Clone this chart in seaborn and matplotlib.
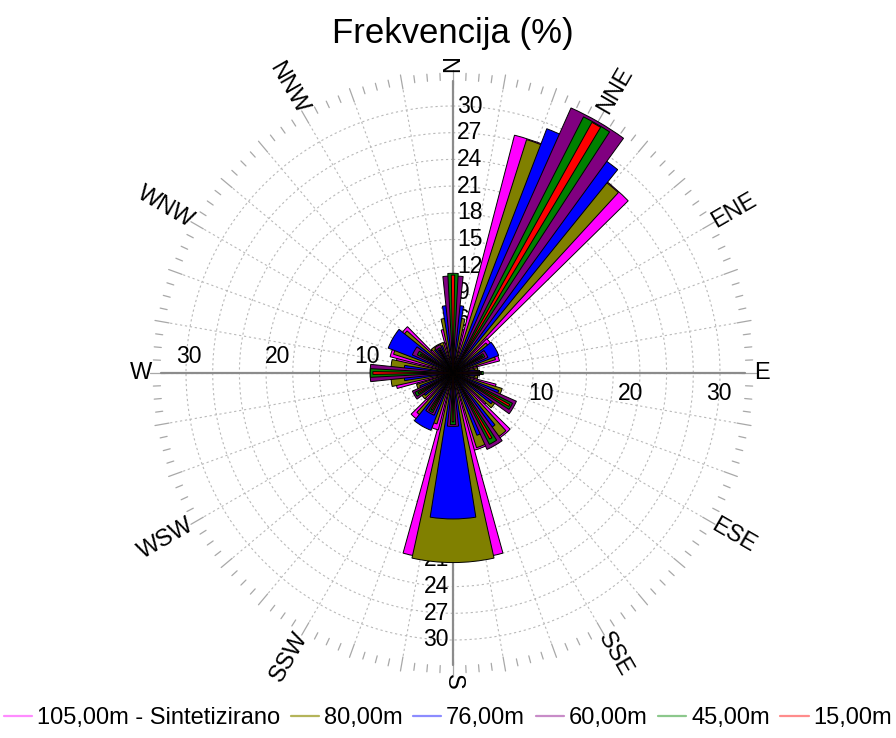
import numpy as np
import matplotlib
matplotlib.use("Agg")
import matplotlib.pyplot as plt
from matplotlib.lines import Line2D
import seaborn as sns

sns.set_theme(style="white")
plt.rcParams["font.family"] = ["Liberation Sans", "DejaVu Sans"]
plt.rcParams["text.color"] = "black"

# smjerovi vjetra (12 sektora)
smjerovi = ["N", "NNE", "ENE", "E", "ESE", "SSE", "S", "SSW", "WSW", "W", "WNW", "NNW"]
kutovi = [0, 30, 60, 90, 120, 150, 180, 210, 240, 270, 300, 330]

# serije po visini
visine = ["105,00m - Sintetizirano", "80,00m", "76,00m", "60,00m", "45,00m", "15,00m"]
boje = ["#ff00ff", "#808000", "#0000ff", "#800080", "#008000", "#ff0000"]
boje_legenda = ["#ff8cff", "#b4b45a", "#8c8cff", "#c88cc8", "#8cc88c", "#ff8c8c"]
sirine = [31, 25, 18, 12, 6, 2]

# frekvencija (%) po smjeru
frek_105 = [5.0, 27.6, 5.4, 2.8, 5.0, 9.0, 21.0, 6.6, 4.2, 6.5, 7.3, 3.5]
frek_80 = [6.2, 27.5, 5.0, 2.8, 5.8, 8.8, 21.3, 6.0, 4.3, 7.0, 7.0, 3.6]
frek_76 = [7.6, 29.4, 5.5, 2.5, 5.5, 7.5, 16.4, 6.9, 4.0, 5.5, 7.8, 3.3]
frek_60 = [10.9, 32.6, 4.3, 3.0, 7.8, 9.4, 6.0, 5.2, 5.0, 9.3, 5.0, 3.5]
frek_45 = [11.2, 32.3, 4.0, 3.4, 7.5, 9.0, 5.8, 5.0, 4.8, 9.3, 4.5, 3.2]
frek_15 = [11.0, 32.2, 3.8, 3.2, 7.3, 8.5, 5.5, 4.8, 4.5, 9.0, 4.2, 3.0]
serije = [frek_105, frek_80, frek_76, frek_60, frek_45, frek_15]

# oznake na osima
oznake_ns = [3, 6, 9, 12, 15, 18, 21, 24, 27, 30]
oznake_we = [10, 20, 30]

W, H = 896, 738
fig = plt.figure(figsize=(W / 100, H / 100), dpi=100)
cx, cy = 453, 738 - 373
rmax = 36.0
R = rmax * 8.9
ax = fig.add_axes([(cx - R) / W, (cy - R) / H, 2 * R / W, 2 * R / H], projection="polar")
ax.set_theta_zero_location("N")
ax.set_theta_direction(-1)
ax.set_ylim(0, rmax)
ax.grid(False)
ax.set_xticks([])
ax.set_yticks([])
ax.spines["polar"].set_visible(False)
ax.patch.set_alpha(0)

# mreza - kruznice i zrake
t = np.linspace(0, 2 * np.pi, 400)
for r in oznake_ns:
    ax.plot(t, np.full_like(t, r), color="#b9b9b9", lw=0.8, ls=(0, (2, 2.5)), zorder=1)
for a in range(0, 360, 10):
    th = np.radians(a)
    ax.plot([th, th], [0, 32.4], color="#b9b9b9", lw=0.8, ls=(0, (2, 2.5)), zorder=1)
    ax.plot([th, th], [32.4, 34.0], color="#a8a8a8", lw=0.9, zorder=1)
for a in np.arange(0, 360, 2.5):
    if a % 10 == 0:
        continue
    th = np.radians(a)
    ax.plot([th, th], [32.9, 33.7], color="#a8a8a8", lw=0.9, zorder=1)

# glavne osi
for a in [0, 90, 180, 270]:
    ax.plot([np.radians(a)] * 2, [0, 32.8], color="#8c8c8c", lw=1.6, zorder=2)

# oznake vrijednosti
for v in oznake_ns:
    ax.annotate(str(v), (0, v), xytext=(3, 0), textcoords="offset points",
                ha="left", va="center", fontsize=16.5, zorder=2)
    ax.annotate(str(v), (np.pi, v), xytext=(-3, 0), textcoords="offset points",
                ha="right", va="center", fontsize=16.5, zorder=2)
for v in oznake_we:
    ax.annotate(str(v), (3 * np.pi / 2, v - 0.3), xytext=(0, 12), textcoords="offset points",
                ha="center", va="center", fontsize=16.5, zorder=2)
    ax.annotate(str(v), (np.pi / 2, v - 0.1), xytext=(0, -15), textcoords="offset points",
                ha="center", va="center", fontsize=16.5, zorder=2)

# smjerovi - tekst ide radijalno, unutarnji kraj na r = 33.8
for ime, a in zip(smjerovi, kutovi):
    rot = 90 - a
    while rot < -90:
        rot += 180
    while rot > 90:
        rot -= 180
    poravnanje = "left" if a <= 180 else "right"
    ax.text(np.radians(a), 33.8, ime, rotation=rot, rotation_mode="anchor",
            ha=poravnanje, va="center", fontsize=17)

# stupci
theta = np.radians(kutovi)
for i, (vals, boja, sir) in enumerate(zip(serije, boje, sirine)):
    ax.bar(theta, vals, width=np.radians(sir), bottom=0, color=boja,
           edgecolor="black", linewidth=0.7, zorder=5 + i)

fig.text(cx / W, 1 - 33 / H, "Frekvencija (%)", ha="center", va="center", fontsize=25)

ruke = [Line2D([0], [0], color=c, lw=1.6) for c in boje_legenda]
fig.legend(ruke, visine, loc="center", bbox_to_anchor=(0.5, 20 / H), ncol=6,
           frameon=False, fontsize=17, handlelength=1.2, handletextpad=0.2,
           columnspacing=0.45, borderaxespad=0)

fig.savefig("out.png", dpi=100)
